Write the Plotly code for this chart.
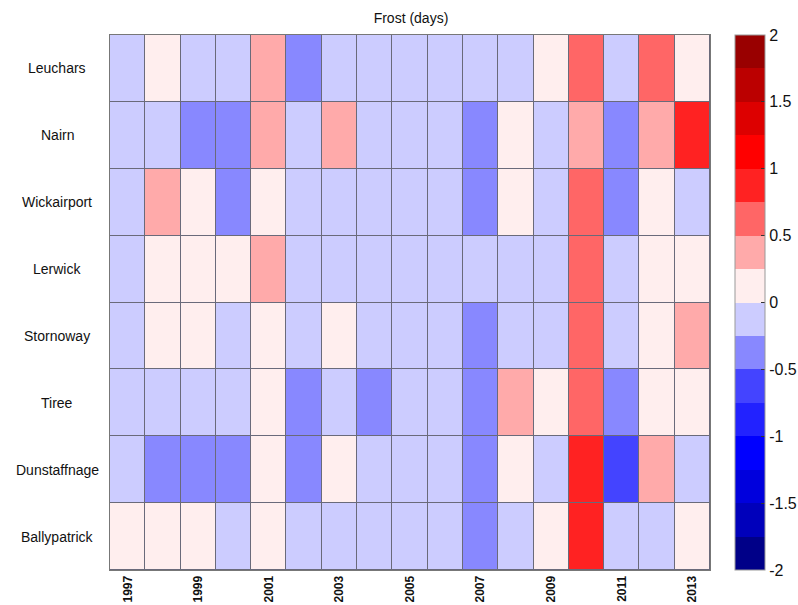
import plotly.graph_objects as go

years = list(range(1997, 2014))
stations = ["Leuchars", "Nairn", "Wickairport", "Lerwick", "Stornoway", "Tiree", "Dunstaffnage", "Ballypatrick"]

leuchars     = [-0.1, 0.1, -0.1, -0.1, 0.4, -0.4, -0.1, -0.1, -0.1, -0.1, -0.1, -0.1, 0.1, 0.6, -0.1, 0.6, 0.1]
nairn        = [-0.1, -0.1, -0.4, -0.4, 0.4, -0.1, 0.4, -0.1, -0.1, -0.1, -0.4, 0.1, -0.1, 0.4, -0.4, 0.4, 0.9]
wickairport  = [-0.1, 0.4, 0.1, -0.4, 0.1, -0.1, -0.1, -0.1, -0.1, -0.1, -0.4, 0.1, -0.1, 0.6, -0.4, 0.1, -0.1]
lerwick      = [-0.1, 0.1, 0.1, 0.1, 0.4, -0.1, -0.1, -0.1, -0.1, -0.1, -0.1, -0.1, -0.1, 0.6, -0.1, 0.1, 0.1]
stornoway    = [-0.1, 0.1, 0.1, -0.1, 0.1, -0.1, 0.1, -0.1, -0.1, -0.1, -0.4, -0.1, -0.1, 0.6, -0.1, 0.1, 0.4]
tiree        = [-0.1, -0.1, -0.1, -0.1, 0.1, -0.4, -0.1, -0.4, -0.1, -0.1, -0.4, 0.4, 0.1, 0.6, -0.4, 0.1, 0.1]
dunstaffnage = [-0.1, -0.4, -0.4, -0.4, 0.1, -0.4, 0.1, -0.1, -0.1, -0.1, -0.4, 0.1, -0.1, 0.9, -0.6, 0.4, -0.1]
ballypatrick = [0.1, 0.1, 0.1, -0.1, 0.1, -0.1, -0.1, -0.1, -0.1, -0.1, -0.4, -0.1, 0.1, 0.9, -0.1, -0.1, 0.1]

z = [leuchars, nairn, wickairport, lerwick, stornoway, tiree, dunstaffnage, ballypatrick]

bin_colors = ["#000088", "#0000BB", "#0000DD", "#0000FF", "#2222FF", "#4444FF", "#8888FF", "#CCCCFF",
              "#FFEEEE", "#FFAAAA", "#FF6666", "#FF2222", "#FF0000", "#DD0000", "#BB0000", "#990000"]
n = len(bin_colors)
colorscale = []
for i, c in enumerate(bin_colors):
    colorscale.append([i / n, c])
    colorscale.append([(i + 1) / n, c])

fig = go.Figure(go.Heatmap(
    z=z, x=years, y=stations,
    zmin=-2, zmax=2, colorscale=colorscale,
    xgap=1, ygap=1,
    colorbar=dict(
        x=1.042, xanchor="left", xpad=0, ypad=0, y=0.5, yanchor="middle", len=1.0, lenmode="fraction",
        thickness=30, outlinecolor="#999999", outlinewidth=1,
        tickvals=[-2, -1.5, -1, -0.5, 0, 0.5, 1, 1.5, 2],
        ticktext=["-2", "-1.5", "-1", "-0.5", "0", "0.5", "1", "1.5", "2"],
        ticks="inside", ticklen=4, tickcolor="#333333",
        tickfont=dict(family="Liberation Sans, Arial", size=16, color="#111111"),
    ),
))

for s in stations:
    fig.add_annotation(x=-0.088, xref="paper", y=s, yref="y", text=s, showarrow=False,
                       xanchor="center", font=dict(family="Liberation Sans, Arial", size=14, color="#111111"))

fig.update_layout(
    width=798, height=605,
    margin=dict(l=110, r=88, t=35, b=35, autoexpand=False),
    paper_bgcolor="white", plot_bgcolor="#6a6a7a",
    title=dict(text="Frost (days)", x=0.515, xanchor="center", y=0.97, yanchor="middle",
               font=dict(family="Liberation Sans, Arial", size=14, color="#111111")),
)
fig.update_xaxes(tickvals=years[::2], ticktext=["<b>%d</b>" % y for y in years[::2]], tickangle=-90,
                 tickfont=dict(family="Liberation Sans, Arial", size=12, color="#111111"),
                 showline=True, linecolor="#777777", mirror=True, linewidth=1, ticks="", showgrid=False,
                 range=[1996.5, 2013.5])
fig.update_yaxes(autorange="reversed", showticklabels=False, showline=True, linecolor="#777777",
                 mirror=True, showgrid=False, ticks="")

fig.write_html("out.html")
